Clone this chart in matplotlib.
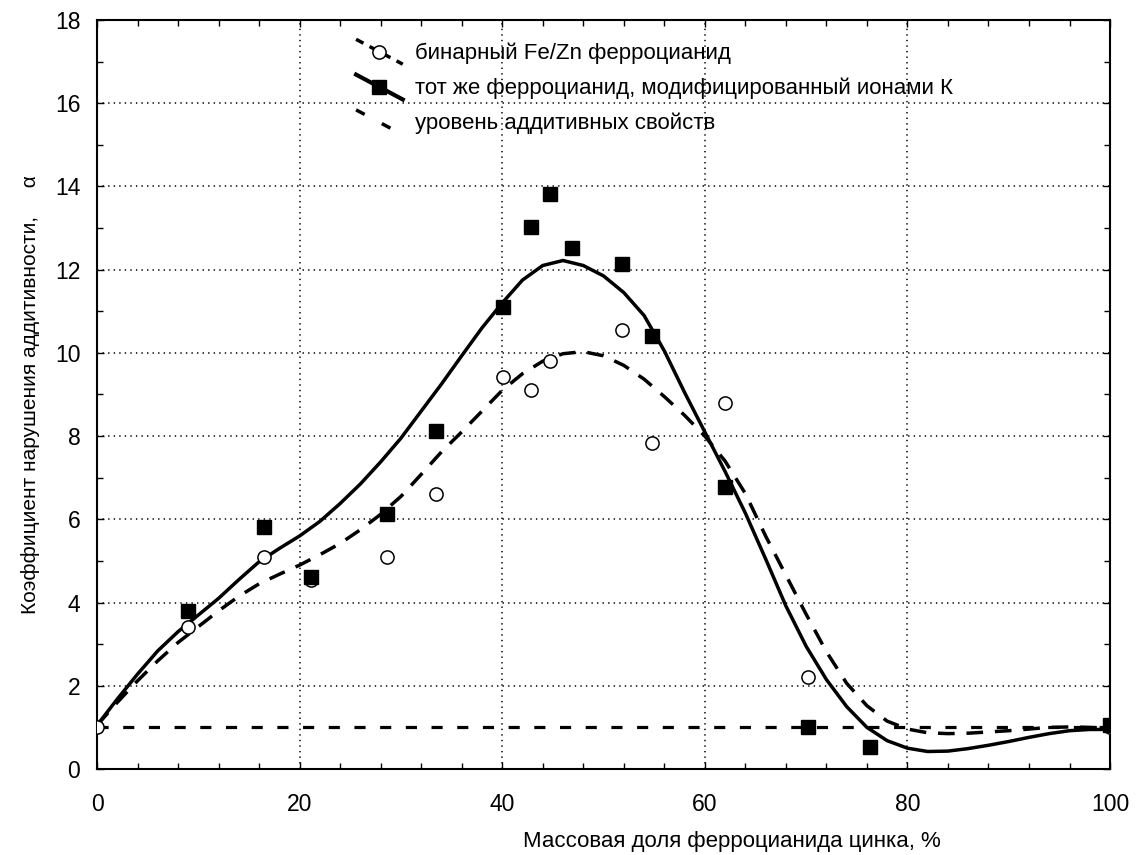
import matplotlib
matplotlib.use("Agg")
import matplotlib.pyplot as plt
from matplotlib.lines import Line2D
from matplotlib.legend_handler import HandlerBase
from matplotlib.ticker import MultipleLocator

plt.rcParams['font.family'] = ['Liberation Sans', 'DejaVu Sans']
plt.rcParams['lines.scale_dashes'] = False

# ---- data ----
zn_binary = [0, 9.0, 16.5, 21.1, 28.6, 33.5, 40.1, 42.8, 44.7, 51.8, 54.8, 62.0, 70.2, 100]
alpha_binary = [1.0, 3.42, 5.10, 4.54, 5.10, 6.61, 9.43, 9.11, 9.81, 10.54, 7.83, 8.79, 2.22, 1.0]

zn_mod = [9.0, 16.5, 21.1, 28.6, 33.5, 40.1, 42.8, 44.7, 46.9, 51.8, 54.8, 62.0, 70.2, 76.3, 100]
alpha_mod = [3.80, 5.81, 4.62, 6.13, 8.13, 11.11, 13.02, 13.82, 12.53, 12.13, 10.41, 6.78, 1.0, 0.54, 1.05]

# fitted curves
fit_x = [0, 2, 4, 6, 8, 10, 12, 14, 16, 18, 20, 22, 24, 26, 28, 30, 32, 34, 36, 38, 40,
         42, 44, 46, 48, 50, 52, 54, 56, 58, 60, 62, 64, 66, 68, 70, 72, 74, 76, 78, 80,
         82, 84, 86, 88, 90, 92, 94, 96, 98, 100]
fit_mod_y = [1.05, 1.68, 2.28, 2.84, 3.30, 3.70, 4.10, 4.55, 4.98, 5.30, 5.60, 5.95, 6.38,
             6.85, 7.38, 7.95, 8.60, 9.25, 9.93, 10.60, 11.20, 11.75, 12.10, 12.22, 12.10,
             11.85, 11.45, 10.90, 10.05, 9.05, 8.10, 7.15, 6.15, 5.05, 3.92, 2.95, 2.15,
             1.50, 1.00, 0.68, 0.50, 0.42, 0.43, 0.49, 0.57, 0.66, 0.76, 0.85, 0.92, 0.95, 0.95]
fit_bin_y = [1.05, 1.60, 2.12, 2.60, 3.04, 3.42, 3.80, 4.15, 4.45, 4.68, 4.90, 5.15, 5.42,
             5.75, 6.12, 6.55, 7.08, 7.62, 8.10, 8.60, 9.10, 9.50, 9.80, 9.98, 10.03, 9.93,
             9.70, 9.37, 8.95, 8.50, 8.00, 7.40, 6.62, 5.60, 4.66, 3.72, 2.82, 2.06, 1.52,
             1.15, 0.96, 0.87, 0.85, 0.86, 0.89, 0.92, 0.96, 1.00, 1.01, 1.00, 0.98]

level_x = [0, 100]
level_y = [1, 1]

labels = ["бинарный Fe/Zn ферроцианид",
          "тот же ферроцианид, модифицированный ионами К",
          "уровень аддитивных свойств"]


class DiagHandler(HandlerBase):
    def create_artists(self, legend, orig_handle, xdescent, ydescent, width, height,
                       fontsize, trans):
        x0 = -xdescent
        x1 = x0 + width
        yb = -ydescent - 0.35 * height
        yt = -ydescent + 1.25 * height
        line = Line2D([x0, x1], [yt, yb])
        line.update_from(orig_handle)
        line.set_marker('None')
        line.set_transform(trans)
        arts = [line]
        if orig_handle.get_marker() not in (None, 'None', ''):
            m = Line2D([(x0 + x1) / 2], [(yt + yb) / 2])
            m.update_from(orig_handle)
            m.set_linestyle('None')
            m.set_transform(trans)
            arts.append(m)
        return arts


fig = plt.figure(figsize=(11.44, 8.55), dpi=100)
ax = fig.add_axes([0.0848, 0.1006, 0.8855, 0.876])

ax.set_xlim(0, 100)
ax.set_ylim(0, 18)

# curves
ax.plot(fit_x, fit_bin_y, color='black', lw=2.5, dashes=(12, 8.5),
        dash_capstyle='butt', zorder=3)
ax.plot(fit_x, fit_mod_y, color='black', lw=2.5, zorder=3)
ax.plot(level_x, level_y, color='black', lw=2.3, dashes=(8, 10.5), zorder=3)

# points
ax.plot(zn_binary, alpha_binary, linestyle='None', marker='o', ms=9.5, mfc='white',
        mec='black', mew=1.1, zorder=4)
ax.plot(zn_mod, alpha_mod, linestyle='None', marker='s', ms=10, mfc='black',
        mec='black', zorder=5)

# legend proxies
h_bin = Line2D([], [], color='black', lw=2.5, dashes=(6, 5), marker='o', ms=9.5,
               mfc='white', mec='black', mew=1.1)
h_mod = Line2D([], [], color='black', lw=3.0, marker='s', ms=10, mfc='black', mec='black')
h_lev = Line2D([], [], color='black', lw=2.5, dashes=(7, 14))
leg = ax.legend([h_bin, h_mod, h_lev], labels, loc='upper left',
                bbox_to_anchor=(0.236, 0.997), frameon=False, fontsize=16,
                handlelength=2.1, handletextpad=0.55, labelspacing=0.62,
                handler_map={Line2D: DiagHandler()})

# ticks
ax.xaxis.set_major_locator(MultipleLocator(20))
ax.xaxis.set_minor_locator(MultipleLocator(4))
ax.yaxis.set_major_locator(MultipleLocator(2))
ax.yaxis.set_minor_locator(MultipleLocator(1))
ax.tick_params(which='both', direction='in', top=True, right=True, width=1.0)
ax.tick_params(which='major', length=5, labelsize=16.5)
ax.tick_params(axis='x', which='major', pad=17)
ax.tick_params(axis='y', which='major', pad=12)
ax.tick_params(which='minor', length=4)
ax.grid(True, which='major', color='black', linestyle=(0, (1, 3)), linewidth=1.1)
for s in ax.spines.values():
    s.set_linewidth(1.5)

ax.set_xlabel("Массовая доля ферроцианида цинка, %", fontsize=16, labelpad=11)
ax.xaxis.set_label_coords(0.627, -0.083)
ax.set_ylabel("Коэффициент нарушения аддитивности,     α", fontsize=15, labelpad=11)

fig.savefig("out.png", dpi=100)
